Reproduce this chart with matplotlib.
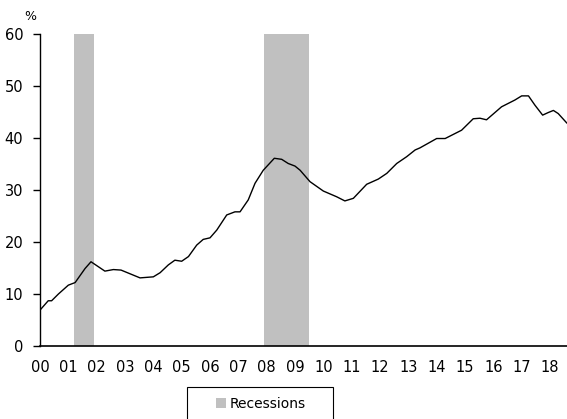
import matplotlib
matplotlib.use("Agg")
import matplotlib.pyplot as plt
from matplotlib.patches import Patch, Rectangle

# years since 2000 and share in %
years = [0.0, 0.29, 0.41, 0.65, 1.0, 1.24, 1.59, 1.80, 2.29, 2.59, 2.86,
         3.53, 4.0, 4.24, 4.53, 4.76, 5.0, 5.24, 5.53, 5.76, 6.0, 6.24,
         6.59, 6.88, 7.06, 7.35, 7.59, 7.88, 8.27, 8.53, 8.76, 9.0, 9.18,
         9.53, 10.0, 10.47, 10.76, 11.06, 11.53, 11.94, 12.24, 12.59, 12.94,
         13.24, 13.41, 14.0, 14.3, 14.88, 15.29, 15.53, 15.76, 16.29, 16.76,
         17.0, 17.24, 17.47, 17.74, 17.94, 18.12, 18.29, 18.59]
values = [6.9, 8.7, 8.7, 10.0, 11.7, 12.2, 14.9, 16.2, 14.4, 14.7, 14.6,
          13.1, 13.3, 14.1, 15.6, 16.5, 16.3, 17.2, 19.4, 20.5, 20.8, 22.3,
          25.2, 25.8, 25.8, 28.1, 31.3, 33.8, 36.1, 35.9, 35.1, 34.6, 33.8,
          31.6, 29.8, 28.7, 27.9, 28.4, 31.1, 32.1, 33.2, 35.1, 36.4,
          37.7, 38.1, 39.9, 39.9, 41.5, 43.7, 43.8, 43.5, 46.0, 47.3,
          48.1, 48.1, 46.3, 44.4, 44.9, 45.3, 44.7, 42.9]

recessions = [(1.2, 1.92), (7.9, 9.5)]
year_labels = ["%02d" % y for y in range(19)]

fig = plt.figure(figsize=(5.67, 4.19), dpi=100)
ax = fig.add_axes([40 / 567, 1 - 346 / 419, 527 / 567, 312 / 419])

for start, end in recessions:
    ax.axvspan(start, end, color="#c0c0c0", lw=0, zorder=1)

ax.plot(years, values, color="black", lw=1.0, zorder=3)

ax.set_xlim(0, 18.6)
ax.set_ylim(0, 60)
ax.set_yticks(range(0, 61, 10))
ax.set_xticks(range(19))
ax.set_xticklabels(year_labels)

for side in ["top", "right"]:
    ax.spines[side].set_visible(False)
ax.spines["left"].set_linewidth(1.0)
ax.spines["bottom"].set_linewidth(1.2)
ax.tick_params(axis="y", direction="out", length=5, width=1, labelsize=10.5, pad=7)
ax.tick_params(axis="x", length=0, labelsize=10.5, pad=10)

fig.text(30 / 567, 1 - 16 / 419, "%", fontsize=9, ha="center", va="center")

# legend box drawn separately so it can be wider than its contents
fig.patches.append(Rectangle((187 / 567, -0.05), 146 / 567, 0.05 + 32 / 419,
                             transform=fig.transFigure, facecolor="white",
                             edgecolor="black", lw=0.8, zorder=0))
handle = Patch(facecolor="#c0c0c0", edgecolor="none")
fig.legend([handle], ["Recessions"], loc="center",
           bbox_to_anchor=(261 / 567, 1 - 404 / 419), frameon=False,
           fontsize=10, handlelength=0.7, handleheight=0.7,
           handletextpad=0.3, borderpad=0, borderaxespad=0)

fig.savefig("out.png", dpi=100)
